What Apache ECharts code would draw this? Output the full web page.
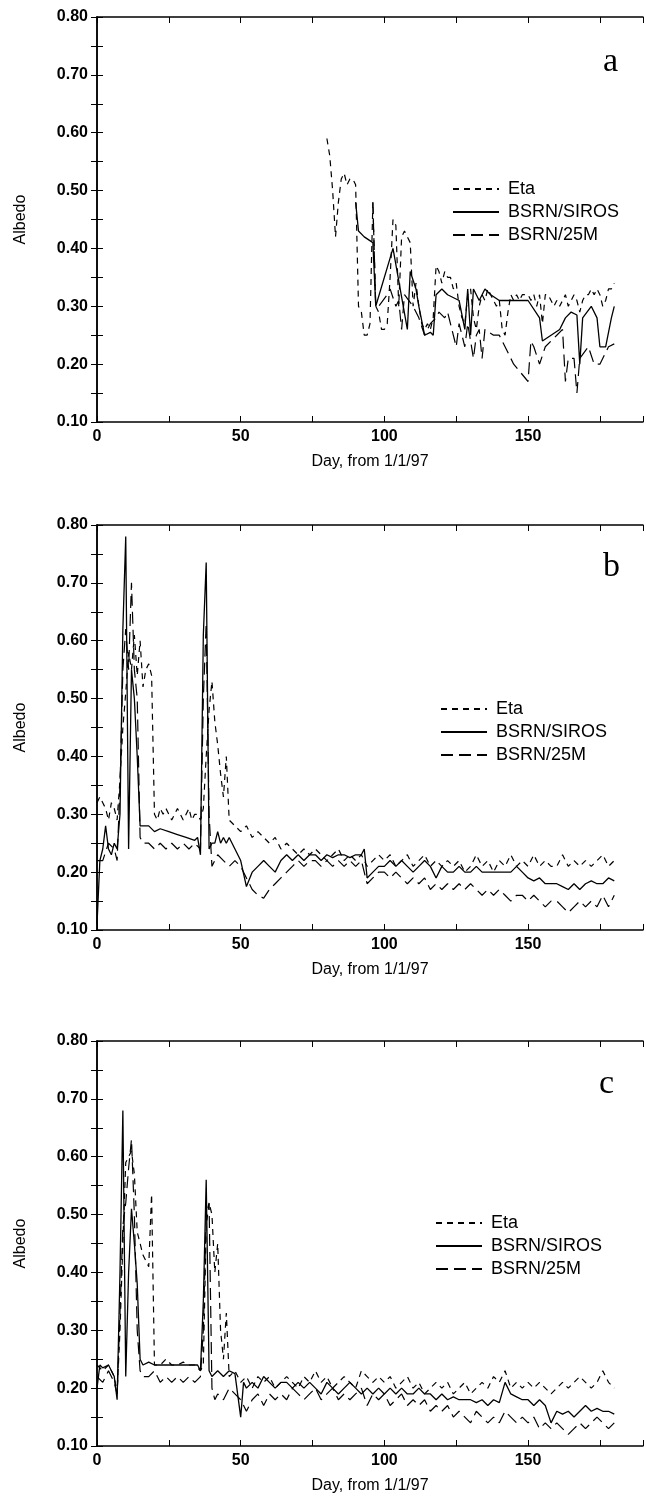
<!DOCTYPE html>
<html>
<head>
<meta charset="utf-8">
<script src="https://cdn.jsdelivr.net/npm/echarts@6/dist/echarts.min.js"></script>
<style>
  html, body { margin: 0; padding: 0; background: #fff; }
  #main { width: 646px; height: 1502px; }
</style>
</head>
<body>
<div id="main"></div>
<script>
var seriesNames = ['Eta', 'BSRN/SIROS', 'BSRN/25M'];
var panelLetters = ['a', 'b', 'c'];
var yTicks = ['0.10', '0.20', '0.30', '0.40', '0.50', '0.60', '0.70', '0.80'];
var xTickLabels = [0, 50, 100, 150];

// panel a : [day, albedo]
var aEta = [[80,0.59],[81,0.56],[82,0.50],[83,0.42],[84,0.48],[85,0.52],[86,0.53],[87,0.51],[88,0.52],[89,0.52],
  [90,0.51],[91,0.30],[92,0.29],[93,0.25],[94,0.25],[95,0.27],[96,0.48],[97,0.30],[98,0.29],[99,0.26],[100,0.26],
  [101,0.27],[102,0.35],[103,0.45],[104,0.44],[105,0.30],[106,0.42],[107,0.43],[108,0.42],[109,0.41],[110,0.30],
  [111,0.34],[112,0.30],[113,0.27],[114,0.26],[115,0.27],[116,0.26],[117,0.28],[118,0.37],[119,0.36],[120,0.34],
  [121,0.36],[122,0.35],[123,0.35],[124,0.33],[125,0.34],[126,0.30],[127,0.28],[128,0.27],[129,0.32],[130,0.33],
  [131,0.28],[132,0.26],[133,0.30],[134,0.32],[135,0.31],[136,0.33],[137,0.32],[138,0.31],[139,0.30],[140,0.31],
  [141,0.26],[142,0.25],[143,0.29],[144,0.32],[145,0.31],[146,0.32],[147,0.31],[148,0.32],[149,0.32],[150,0.32],
  [151,0.31],[152,0.32],[153,0.30],[154,0.32],[155,0.27],[156,0.32],[157,0.32],[158,0.31],[159,0.30],[160,0.31],
  [161,0.30],[162,0.31],[163,0.32],[164,0.30],[165,0.31],[166,0.32],[167,0.31],[168,0.29],[169,0.31],[170,0.32],
  [171,0.32],[172,0.33],[173,0.32],[174,0.33],[175,0.32],[176,0.30],[177,0.31],[178,0.33],[179,0.33],[180,0.34]];
var aSiros = [[90,0.48],[91,0.43],[93,0.42],[96,0.41],[97,0.30],[103,0.40],[108,0.26],[109,0.36],[111,0.33],[112,0.30],
  [114,0.25],[116,0.255],[117,0.25],[118,0.32],[120,0.33],[122,0.32],[126,0.31],[128,0.26],[129,0.33],[130,0.25],
  [131,0.33],[133,0.31],[135,0.33],[137,0.32],[140,0.31],[145,0.31],[150,0.31],[154,0.28],[155,0.24],[158,0.25],
  [161,0.26],[163,0.28],[165,0.29],[167,0.285],[168,0.20],[169,0.28],[172,0.30],[174,0.28],[175,0.23],[177,0.23],
  [179,0.28],[180,0.30]];
var a25m = [[96,0.48],[97,0.30],[98,0.30],[101,0.32],[102,0.33],[104,0.30],[105,0.31],[106,0.26],[107,0.32],[110,0.30],
  [112,0.28],[114,0.25],[116,0.27],[118,0.28],[119,0.29],[121,0.28],[122,0.29],[125,0.23],[126,0.27],[127,0.25],
  [128,0.23],[129,0.27],[131,0.21],[132,0.25],[133,0.26],[134,0.21],[135,0.26],[138,0.25],[140,0.25],[143,0.22],
  [145,0.20],[150,0.17],[151,0.24],[152,0.23],[154,0.20],[156,0.23],[160,0.25],[162,0.26],[163,0.17],[164,0.21],
  [166,0.21],[167,0.15],[168,0.21],[171,0.23],[173,0.20],[175,0.20],[178,0.23],[180,0.235]];

// panel b
var bEta = [[0,0.32],[1,0.33],[2,0.32],[3,0.31],[4,0.29],[5,0.32],[6,0.31],[7,0.29],[8,0.36],[9,0.45],[10,0.51],
  [11,0.58],[12,0.55],[13,0.61],[14,0.54],[15,0.60],[16,0.52],[17,0.55],[18,0.56],[19,0.54],[20,0.30],[21,0.29],
  [22,0.31],[23,0.30],[24,0.31],[25,0.30],[26,0.29],[27,0.30],[28,0.31],[29,0.30],[30,0.29],[31,0.30],[32,0.31],
  [33,0.29],[34,0.30],[35,0.30],[36,0.29],[37,0.31],[38,0.40],[39,0.48],[40,0.53],[41,0.46],[42,0.42],[43,0.37],
  [44,0.33],[45,0.40],[46,0.29],[48,0.28],[50,0.27],[52,0.28],[54,0.26],[56,0.27],[58,0.26],[60,0.25],[62,0.26],
  [64,0.24],[66,0.25],[68,0.24],[70,0.23],[72,0.24],[74,0.23],[76,0.24],[78,0.23],[80,0.22],[82,0.23],[84,0.24],
  [86,0.22],[88,0.23],[90,0.22],[92,0.23],[94,0.21],[96,0.22],[98,0.23],[100,0.22],[102,0.23],[104,0.21],[106,0.22],
  [108,0.23],[110,0.21],[112,0.22],[114,0.23],[116,0.21],[118,0.22],[120,0.21],[122,0.22],[124,0.21],[126,0.22],
  [128,0.20],[130,0.21],[132,0.23],[134,0.21],[136,0.22],[138,0.20],[140,0.22],[142,0.21],[144,0.23],[146,0.21],
  [148,0.22],[150,0.21],[152,0.23],[154,0.21],[156,0.22],[158,0.21],[160,0.21],[162,0.23],[164,0.21],[166,0.22],
  [168,0.21],[170,0.22],[172,0.21],[174,0.22],[176,0.23],[178,0.21],[180,0.22]];
var bSiros = [[0,0.11],[1,0.22],[2,0.24],[3,0.28],[4,0.24],[5,0.23],[6,0.25],[7,0.24],[8,0.30],[9,0.62],[10,0.78],
  [11,0.24],[12,0.55],[13,0.50],[14,0.40],[15,0.28],[16,0.28],[18,0.28],[20,0.27],[22,0.275],[25,0.27],[28,0.265],
  [31,0.26],[34,0.255],[35,0.26],[36,0.23],[37,0.61],[38,0.735],[39,0.24],[40,0.25],[41,0.25],[42,0.27],[43,0.25],
  [44,0.26],[45,0.25],[46,0.26],[48,0.24],[50,0.22],[52,0.175],[54,0.20],[56,0.21],[58,0.22],[60,0.21],[62,0.20],
  [64,0.22],[66,0.23],[68,0.22],[70,0.23],[72,0.22],[74,0.23],[76,0.23],[78,0.22],[80,0.23],[82,0.225],[84,0.23],
  [86,0.23],[88,0.225],[90,0.23],[92,0.23],[93,0.24],[94,0.19],[96,0.20],[98,0.21],[100,0.21],[102,0.22],[104,0.21],
  [106,0.22],[108,0.21],[110,0.20],[112,0.21],[114,0.22],[116,0.21],[118,0.19],[120,0.21],[122,0.20],[124,0.20],
  [126,0.21],[128,0.20],[130,0.20],[132,0.21],[134,0.20],[136,0.20],[140,0.20],[144,0.20],[146,0.21],[148,0.20],
  [150,0.19],[152,0.185],[154,0.19],[156,0.18],[160,0.18],[162,0.175],[164,0.17],[166,0.18],[168,0.17],[170,0.18],
  [172,0.185],[174,0.18],[176,0.18],[178,0.19],[180,0.185]];
var b25m = [[0,0.22],[2,0.22],[4,0.25],[6,0.24],[7,0.22],[8,0.35],[9,0.55],[10,0.62],[11,0.55],[12,0.70],[13,0.55],
  [14,0.50],[15,0.26],[16,0.25],[18,0.25],[20,0.24],[22,0.25],[24,0.24],[26,0.25],[28,0.24],[30,0.25],[32,0.24],
  [34,0.25],[36,0.24],[37,0.50],[38,0.63],[39,0.30],[40,0.21],[42,0.23],[44,0.22],[46,0.21],[48,0.22],[50,0.21],
  [52,0.19],[54,0.17],[56,0.16],[58,0.155],[60,0.17],[62,0.18],[64,0.19],[66,0.20],[68,0.21],[70,0.22],[72,0.21],
  [74,0.22],[76,0.22],[78,0.21],[80,0.22],[82,0.21],[84,0.22],[86,0.21],[88,0.22],[90,0.21],[92,0.22],[94,0.18],
  [96,0.19],[98,0.20],[100,0.20],[102,0.19],[104,0.20],[106,0.19],[108,0.18],[110,0.19],[112,0.18],[114,0.19],
  [116,0.17],[118,0.18],[120,0.17],[122,0.18],[124,0.17],[126,0.18],[128,0.17],[130,0.18],[132,0.17],[134,0.16],
  [136,0.17],[138,0.16],[140,0.17],[142,0.16],[144,0.15],[146,0.16],[148,0.16],[150,0.15],[152,0.16],[154,0.15],
  [156,0.14],[158,0.15],[160,0.15],[162,0.14],[164,0.13],[166,0.14],[168,0.15],[170,0.14],[172,0.15],[174,0.14],
  [176,0.16],[178,0.14],[180,0.16]];

// panel c
var cEta = [[0,0.24],[2,0.23],[4,0.24],[6,0.22],[7,0.19],[8,0.30],[9,0.45],[10,0.59],[11,0.60],[12,0.61],[13,0.57],
  [14,0.47],[15,0.45],[16,0.43],[17,0.42],[18,0.41],[19,0.535],[20,0.24],[22,0.24],[24,0.25],[26,0.24],[28,0.24],
  [30,0.245],[32,0.24],[34,0.24],[36,0.23],[37,0.24],[38,0.48],[39,0.52],[40,0.50],[41,0.40],[42,0.45],[43,0.30],
  [44,0.25],[45,0.33],[46,0.22],[48,0.23],[50,0.21],[52,0.22],[54,0.20],[56,0.22],[58,0.21],[60,0.22],[62,0.20],
  [64,0.21],[66,0.22],[68,0.21],[70,0.20],[72,0.22],[74,0.21],[76,0.23],[78,0.21],[80,0.22],[82,0.20],[84,0.21],
  [86,0.22],[88,0.21],[90,0.20],[92,0.23],[94,0.22],[96,0.21],[98,0.22],[100,0.21],[102,0.22],[104,0.20],[106,0.21],
  [108,0.22],[110,0.20],[112,0.21],[114,0.19],[116,0.20],[118,0.21],[120,0.20],[122,0.21],[124,0.19],[126,0.20],
  [128,0.21],[130,0.19],[132,0.20],[134,0.21],[136,0.20],[138,0.22],[140,0.21],[142,0.23],[144,0.20],[146,0.21],
  [148,0.20],[150,0.21],[152,0.20],[154,0.21],[156,0.20],[158,0.19],[160,0.20],[162,0.21],[164,0.20],[166,0.21],
  [168,0.22],[170,0.21],[172,0.20],[174,0.21],[176,0.23],[178,0.21],[180,0.20]];
var cSiros = [[0,0.20],[1,0.24],[2,0.235],[4,0.24],[6,0.22],[7,0.18],[8,0.40],[9,0.68],[10,0.22],[11,0.40],[12,0.51],
  [13,0.45],[14,0.38],[15,0.25],[16,0.24],[18,0.245],[20,0.24],[24,0.24],[28,0.24],[32,0.24],[35,0.24],[36,0.23],
  [37,0.35],[38,0.56],[39,0.23],[40,0.22],[42,0.23],[44,0.22],[46,0.23],[48,0.225],[50,0.15],[51,0.21],[52,0.20],
  [54,0.21],[56,0.20],[58,0.22],[60,0.21],[62,0.20],[64,0.21],[66,0.21],[68,0.20],[70,0.21],[72,0.20],[74,0.21],
  [76,0.20],[78,0.19],[80,0.21],[82,0.20],[84,0.19],[86,0.20],[88,0.21],[90,0.20],[92,0.19],[94,0.20],[96,0.19],
  [98,0.20],[100,0.19],[102,0.20],[104,0.19],[106,0.20],[108,0.19],[110,0.19],[112,0.20],[114,0.19],[116,0.19],
  [118,0.18],[120,0.19],[122,0.18],[124,0.185],[126,0.18],[128,0.18],[130,0.18],[132,0.175],[134,0.18],[136,0.17],
  [138,0.18],[140,0.175],[142,0.21],[144,0.19],[146,0.185],[148,0.18],[150,0.18],[152,0.17],[154,0.18],[156,0.17],
  [158,0.14],[160,0.16],[162,0.155],[164,0.16],[166,0.15],[168,0.16],[170,0.17],[172,0.16],[174,0.165],[176,0.16],
  [178,0.16],[180,0.155]];
var c25m = [[0,0.22],[2,0.21],[4,0.23],[6,0.21],[7,0.19],[8,0.33],[9,0.48],[10,0.52],[11,0.58],[12,0.63],[13,0.50],
  [14,0.30],[15,0.23],[16,0.22],[18,0.22],[20,0.23],[22,0.21],[24,0.22],[26,0.21],[28,0.22],[30,0.21],[32,0.22],
  [34,0.21],[36,0.22],[37,0.30],[38,0.50],[39,0.52],[40,0.20],[41,0.18],[42,0.19],[44,0.18],[46,0.20],[48,0.19],
  [50,0.18],[52,0.16],[54,0.18],[56,0.19],[58,0.17],[60,0.19],[62,0.18],[64,0.19],[66,0.18],[68,0.20],[70,0.19],
  [72,0.18],[74,0.19],[76,0.20],[78,0.18],[80,0.19],[82,0.20],[84,0.18],[86,0.19],[88,0.18],[90,0.19],[92,0.20],
  [94,0.17],[96,0.19],[98,0.18],[100,0.19],[102,0.17],[104,0.18],[106,0.19],[108,0.17],[110,0.18],[112,0.17],
  [114,0.18],[116,0.16],[118,0.17],[120,0.16],[122,0.17],[124,0.15],[126,0.16],[128,0.15],[130,0.14],[132,0.16],
  [134,0.15],[136,0.14],[138,0.15],[140,0.14],[142,0.16],[144,0.15],[146,0.14],[148,0.15],[150,0.14],[152,0.15],
  [154,0.13],[156,0.14],[158,0.13],[160,0.14],[162,0.13],[164,0.12],[166,0.13],[168,0.14],[170,0.13],[172,0.14],
  [174,0.15],[176,0.14],[178,0.13],[180,0.14]];

var panels = [[aEta, aSiros, a25m], [bEta, bSiros, b25m], [cEta, cSiros, c25m]];

var myChart = echarts.init(document.getElementById('main'));

var gridTops = [17, 525, 1041];   // top of each panel
var gridH = 405;
var dashes = [[6, 5], 'solid', [12, 6]];
var legendTops = [175, 695, 1209];
var legendLefts = [447, 435, 430];
var letterPos = [[612, 65], [612, 570], [608, 1087]];
var font = 'Liberation Sans, Arial, sans-serif';

var grid = [], xAxis = [], yAxis = [], series = [], legend = [], graphic = [];

panels.forEach(function (p, i) {
    grid.push({ left: 97, top: gridTops[i], width: 546, height: gridH, show: false });
    // bottom x axis
    xAxis.push({
        type: 'value', gridIndex: i, min: 0, max: 190, interval: 25,
        axisLine: { lineStyle: { color: '#000', width: 1.5 } },
        axisTick: { inside: true, length: 6, lineStyle: { color: '#000' } },
        axisLabel: {
            color: '#000', fontSize: 16, fontWeight: 'bold', fontFamily: font, margin: 7,
            formatter: function (v) { return xTickLabels.indexOf(v) >= 0 ? String(v) : ''; }
        },
        splitLine: { show: false },
        name: 'Day, from 1/1/97', nameLocation: 'middle', nameGap: 32,
        nameTextStyle: { color: '#000', fontSize: 16, fontFamily: font }
    });
    // top x axis (mirrored ticks)
    xAxis.push({
        type: 'value', gridIndex: i, min: 0, max: 190, interval: 25, position: 'top',
        axisLine: { lineStyle: { color: '#000', width: 1.5 } },
        axisTick: { inside: true, length: 6, lineStyle: { color: '#000' } },
        axisLabel: { show: false }, splitLine: { show: false }
    });
    yAxis.push({
        type: 'value', gridIndex: i, min: 0.1, max: 0.8, interval: 0.1,
        axisLine: { show: true, lineStyle: { color: '#000', width: 1.5 } },
        axisTick: { show: true, inside: true, length: 6, lineStyle: { color: '#000' } },
        minorTick: { show: true, splitNumber: 2, length: 6, lineStyle: { color: '#000' } },
        axisLabel: {
            color: '#000', fontSize: 16, fontWeight: 'bold', fontFamily: font, margin: 9,
            formatter: function (v) { return yTicks[Math.round(v * 10) - 1]; }
        },
        splitLine: { show: false },
        name: 'Albedo', nameLocation: 'middle', nameGap: 68, nameRotate: 90,
        nameTextStyle: { color: '#000', fontSize: 16, fontFamily: font }
    });
    yAxis.push({
        type: 'value', gridIndex: i, min: 0.1, max: 0.8, interval: 0.1, position: 'right',
        axisLine: { show: true, lineStyle: { color: '#000', width: 1.5 } },
        axisTick: { show: true, inside: true, length: 6, lineStyle: { color: '#000' } },
        minorTick: { show: true, splitNumber: 2, length: 6, lineStyle: { color: '#000' } },
        axisLabel: { show: false }, splitLine: { show: false }
    });
    p.forEach(function (d, k) {
        series.push({
            name: seriesNames[k], type: 'line', xAxisIndex: i * 2, yAxisIndex: i * 2,
            data: d, symbol: 'none', silent: true,
            itemStyle: { color: '#000' },
            lineStyle: { color: '#000', width: k === 1 ? 1.3 : 1.2, type: dashes[k] }
        });
    });
    legend.push({
        data: seriesNames, orient: 'vertical', left: legendLefts[i], top: legendTops[i],
        itemWidth: 46, itemHeight: 10, itemGap: 5, selectedMode: false,
        itemStyle: { opacity: 0 },
        textStyle: { color: '#000', fontSize: 18, fontFamily: font, padding: [0, 0, 0, 4] }
    });
    graphic.push({
        type: 'text', left: letterPos[i][0] - 9, top: letterPos[i][1] - 20,
        style: { text: panelLetters[i], font: '34px "Liberation Serif", "Times New Roman", serif', fill: '#000' }
    });
});

option = {
    backgroundColor: '#fff',
    animation: false,
    grid: grid,
    xAxis: xAxis,
    yAxis: yAxis,
    legend: legend,
    graphic: graphic,
    series: series
};
if (option && typeof option === "object") {
    myChart.setOption(option, true);
}
</script>
</body>
</html>
